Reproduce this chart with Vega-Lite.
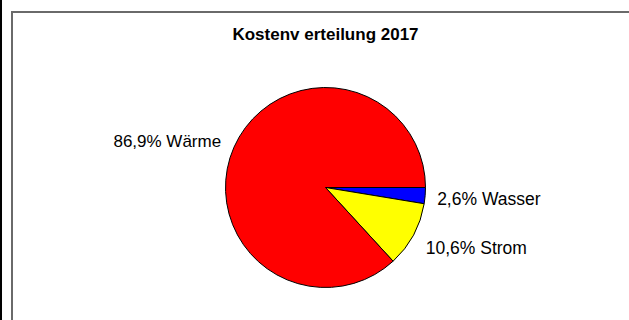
{
  "$schema": "https://vega.github.io/schema/vega-lite/v6.json",
  "padding": 0,
  "background": "white",
  "spacing": 8,
  "hconcat": [
    {
      "width": 0.01,
      "height": 363,
      "view": {"stroke": "black", "strokeWidth": 2},
      "data": {"values": []},
      "mark": "text",
      "encoding": {}
    },
    {
      "spacing": 9,
      "vconcat": [
        {
          "width": 627,
          "height": 0.01,
          "view": {"stroke": null},
          "data": {"values": []},
          "mark": "text",
          "encoding": {}
        },
        {
          "width": 627,
          "height": 351,
          "view": {"stroke": "#6a6a6a", "strokeWidth": 2},
          "title": {
            "text": "Kostenv erteilung 2017",
            "anchor": "middle",
            "offset": -32,
            "font": "Liberation Sans",
            "fontSize": 17,
            "fontWeight": "bold",
            "color": "black"
          },
          "data": {
            "values": [
              {"cat": "Wasser", "value": 2.6, "label": "2,6% Wasser"},
              {"cat": "Strom", "value": 10.6, "label": "10,6% Strom"},
              {"cat": "Wärme", "value": 86.9, "label": "86,9% Wärme"}
            ]
          },
          "encoding": {
            "theta": {"field": "value", "type": "quantitative", "stack": true, "scale": {"range": [1.5707963, 7.8539816]}},
            "order": {"field": "value", "type": "quantitative", "sort": "ascending"},
            "detail": {"field": "cat", "type": "nominal"}
          },
          "layer": [
            {
              "mark": {"type": "arc", "radius": 100, "stroke": "black", "strokeWidth": 1},
              "encoding": {
                "color": {"field": "cat", "type": "nominal", "legend": null,
                  "scale": {"domain": ["Wasser", "Strom", "Wärme"], "range": ["#0000FF", "#FFFF00", "#FF0000"]}}
              }
            },
            {
              "mark": {"type": "text", "radius": 114, "align": "right", "baseline": "middle", "font": "Liberation Sans", "fontSize": 17, "color": "black"},
              "encoding": {
                "text": {"condition": {"test": "datum.cat === 'Wärme'", "field": "label"}, "value": ""}
              }
            },
            {
              "mark": {"type": "text", "radius": 112, "dy": 3, "align": "left", "baseline": "middle", "font": "Liberation Sans", "fontSize": 17.5, "color": "black"},
              "encoding": {
                "text": {"condition": {"test": "datum.cat === 'Wasser'", "field": "label"}, "value": ""}
              }
            },
            {
              "mark": {"type": "text", "radius": 114, "dy": 7, "align": "left", "baseline": "middle", "font": "Liberation Sans", "fontSize": 17.5, "color": "black"},
              "encoding": {
                "text": {"condition": {"test": "datum.cat === 'Strom'", "field": "label"}, "value": ""}
              }
            }
          ]
        }
      ]
    }
  ]
}
